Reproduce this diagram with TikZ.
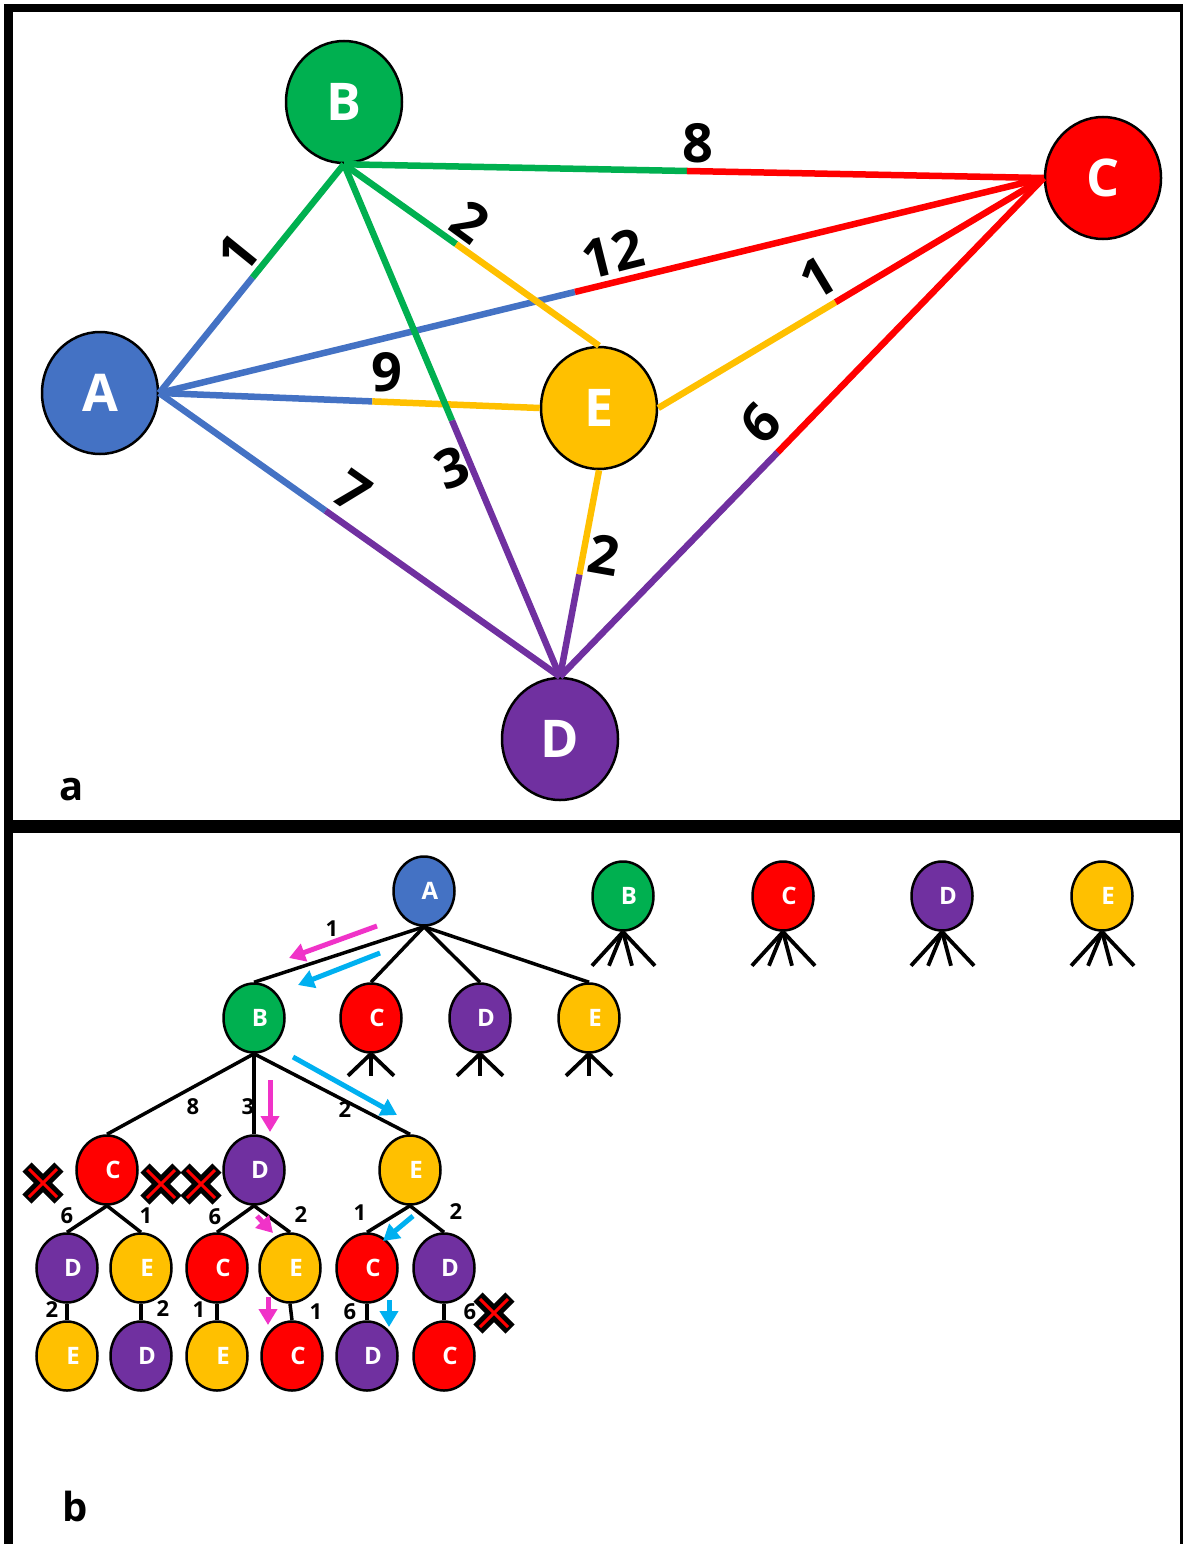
\documentclass[tikz,border=0pt]{standalone}
\usepackage{fontspec}
\setmainfont{Open Sans}
\usetikzlibrary{arrows.meta,shapes.geometric,calc}

\definecolor{cA}{HTML}{4472C4}
\definecolor{cB}{HTML}{00B050}
\definecolor{cC}{HTML}{FF0000}
\definecolor{cD}{HTML}{7030A0}
\definecolor{cE}{HTML}{FFC000}
\definecolor{pinkarr}{HTML}{F033C8}
\definecolor{cyanarr}{HTML}{00B0F0}

% pruned branch marker
\tikzset{
  xmark/.pic={
    \draw[line width=13pt] (-16,-16) -- (16,16) (-16,16) -- (16,-16);
    \draw[cC, line width=3pt] (-14,-14) -- (14,14) (-14,14) -- (14,-14);
  }
}

\begin{document}
\begin{tikzpicture}[x=1pt, y=-1pt,
    gnode/.style={draw, ellipse, line width=2.5pt, minimum width=116pt, minimum height=122pt, inner sep=0pt, text=white, font=\fontsize{52}{52}\selectfont\bfseries},
    tnode/.style={draw, ellipse, line width=2.5pt, minimum width=61pt, minimum height=69pt, inner sep=0pt, text=white, font=\fontsize{24}{24}\selectfont\bfseries, execute at begin node={\hspace*{12pt}}},
    gedge/.style={line width=6.5pt},
    wlbl/.style={font=\fontsize{54}{54}\selectfont\bfseries, inner sep=0pt},
    tedge/.style={line width=3.5pt},
    swlbl/.style={font=\fontsize{22}{22}\selectfont\bfseries, inner sep=0pt},
    leg/.style={line width=3.8pt},
    parr/.style={line width=5pt, -{Triangle[length=16pt, width=18pt]}},
    panel/.style={font=\fontsize{40}{40}\selectfont\bfseries, inner sep=0pt}
]
\useasboundingbox (0,0) rectangle (1183,1544);

% frame
\fill (4,4) rectangle (1183,12);
\fill (4,4) rectangle (13,1544);
\fill (1180,4) rectangle (1183,1544);
\fill (4,820) rectangle (1183,833);

% ---- a: weighted graph ----
\node[gnode, fill=cA] (A) at (100,393) {A};
\node[gnode, fill=cB] (B) at (344,102) {B};
\node[gnode, fill=cC] (C) at (1103,178) {C};
\node[gnode, fill=cD] (D) at (560,739) {D};
\node[gnode, fill=cE] (E) at (599,408) {E};

\foreach \u/\cu/\v/\cv/\s in {A.east/cA/B.south/cB/0.505, A.east/cA/C.west/cC/0.47,
    A.east/cA/E.west/cE/0.56, A.east/cA/D.north/cD/0.415, B.south/cB/C.west/cC/0.49,
    B.south/cB/E.north/cE/0.44, B.south/cB/D.north/cD/0.5, E.east/cE/C.west/cC/0.46,
    E.south/cE/D.north/cD/0.505, D.north/cD/C.west/cC/0.45} {
  \draw[gedge, \cu] (\u) -- ($(\u)!\s!(\v)$);
  \draw[gedge, \cv] ($(\u)!\s!(\v)$) -- (\v);
}

\node[wlbl, rotate=51] (wab) at (238,253) {1};
\node[wlbl] (wbc) at (698,143) {8};
\node[wlbl, rotate=-36] (wbe) at (470,222) {2};
\node[wlbl, rotate=14] (wac) at (613,254) {12};
\node[wlbl, rotate=31] (wec) at (818,278) {1};
\node[wlbl] (wae) at (387,372) {9};
\node[wlbl, rotate=23] (wbd) at (452,468) {3};
\node[wlbl, rotate=-35] (wad) at (352,492) {7};
\node[wlbl, rotate=-10] (wed) at (604,555) {2};
\node[wlbl, rotate=46] (wdc) at (760,423) {6};

\node[panel] (pa) at (72,790) {a};

% ---- b: search tree ----
\node[tnode, fill=cA] (t0) at (424,891) {A};

% unexpanded roots
\foreach \c/\x [count=\i] in {B/623, C/783, D/942, E/1102} {
  \node[tnode, fill=c\c] (r\i) at (\x,896) {\c};
  \foreach \dx in {-31,-14,9,32}
    \draw[leg] (r\i.south) -- ++(\dx,34);
}

\node[tnode, fill=cB] (t1) at (254,1018) {B};
\node[tnode, fill=cC] (t2) at (371,1018) {C};
\node[tnode, fill=cD] (t3) at (480,1018) {D};
\node[tnode, fill=cE] (t4) at (589,1018) {E};
\foreach \n in {t2,t3,t4}
  \foreach \dx in {-23,0,23}
    \draw[leg] (\n.south) -- ++(\dx,22);

\node[tnode, fill=cC] (t11) at (107,1170) {C};
\node[tnode, fill=cD] (t12) at (254,1170) {D};
\node[tnode, fill=cE] (t13) at (410,1170) {E};

\node[tnode, fill=cD] (t111) at (67,1268) {D};
\node[tnode, fill=cE] (t112) at (141,1268) {E};
\node[tnode, fill=cC] (t121) at (217,1268) {C};
\node[tnode, fill=cE] (t122) at (290,1268) {E};
\node[tnode, fill=cC] (t131) at (367,1268) {C};
\node[tnode, fill=cD] (t132) at (444,1268) {D};

\node[tnode, fill=cE] (t1111) at (67,1356) {E};
\node[tnode, fill=cD] (t1121) at (141,1356) {D};
\node[tnode, fill=cE] (t1211) at (217,1356) {E};
\node[tnode, fill=cC] (t1221) at (292,1356) {C};
\node[tnode, fill=cD] (t1311) at (367,1356) {D};
\node[tnode, fill=cC] (t1321) at (444,1356) {C};

\foreach \p/\c in {t0/t1, t0/t2, t0/t3, t0/t4, t1/t11, t1/t12, t1/t13,
    t11/t111, t11/t112, t12/t121, t12/t122, t13/t131, t13/t132,
    t111/t1111, t112/t1121, t121/t1211, t122/t1221, t131/t1311, t132/t1321}
  \draw[tedge] (\p.south) -- (\c.north);

% edge weights
\node[swlbl] (s01) at (332,929) {1};
\node[swlbl] (s11) at (193,1107) {8};
\node[swlbl] (s12) at (248,1107) {3};
\node[swlbl] (s13) at (345,1110) {2};
\node[swlbl] (s111) at (67,1216) {6};
\node[swlbl] (s112) at (146,1216) {1};
\node[swlbl] (s121) at (215,1217) {6};
\node[swlbl] (s122) at (301,1215) {2};
\node[swlbl] (s131) at (360,1213) {1};
\node[swlbl] (s132) at (456,1212) {2};
\node[swlbl] (s1111) at (52,1310) {2};
\node[swlbl] (s1121) at (163,1309) {2};
\node[swlbl] (s1211) at (199,1310) {1};
\node[swlbl] (s1221) at (316,1312) {1};
\node[swlbl] (s1311) at (350,1312) {6};
\node[swlbl] (s1321) at (470,1312) {6};

% pruned
\pic at (43,1183) {xmark};
\pic at (161,1184) {xmark};
\pic at (201,1184) {xmark};
\pic at (494,1313) {xmark};

% search order
\draw[parr, pinkarr] (377,926) -- (289,958);
\draw[parr, pinkarr] (270,1080) -- (270,1132);
\draw[parr, pinkarr] (257,1216) -- (273,1233);
\draw[parr, pinkarr] (268,1297) -- (268,1325);
\draw[parr, cyanarr] (380,953) -- (298,985);
\draw[parr, cyanarr] (293,1057) -- (397,1115);
\draw[parr, cyanarr] (413,1216) -- (383,1241);
\draw[parr, cyanarr] (389,1300) -- (389,1327);

\node[panel] (pb) at (75,1506) {b};
\end{tikzpicture}
\end{document}
